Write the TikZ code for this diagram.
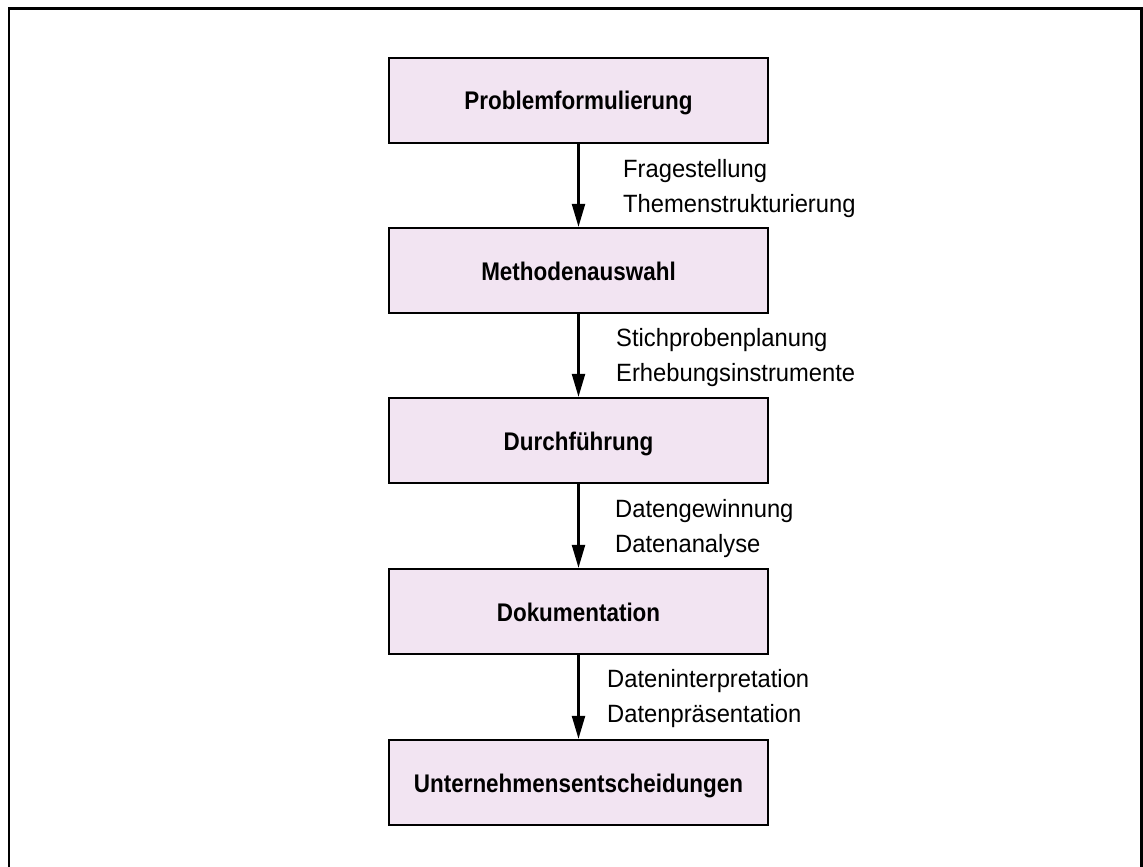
\documentclass[tikz,border=0pt]{standalone}
\usepackage{fontspec}
\setmainfont{Liberation Sans}[FakeStretch=0.95]
\newfontfamily\boxfont{Liberation Sans}[FakeStretch=0.88]
\usetikzlibrary{arrows.meta,calc}
\definecolor{stepfill}{RGB}{242,228,242}
\begin{document}
\begin{tikzpicture}[x=1pt,y=-1pt,
  stagebox/.style={draw=black, line width=2.3pt, fill=stepfill,
    minimum width=379pt, minimum height=85pt, inner sep=0pt,
    text height=19pt, text depth=0pt,
    font=\boxfont\bfseries\fontsize{25.5}{28}\selectfont},
  notes/.style={anchor=base west, align=left, inner sep=0pt,
    font=\fontsize{25}{35}\selectfont},
  flow/.style={line width=2.3pt, -{Triangle[length=23pt,width=13pt]}}]
\useasboundingbox (0,0) rectangle (1143,867);
\clip (0,0) rectangle (1143,867);
% outer frame
\draw[line width=2.8pt] (9,880) -- (9,8.7) -- (1141.8,8.7) -- (1141.8,880);

% process stages
\node[stagebox] (b1) at (578.5,100.5) {Problemformulierung};
\node[stagebox] (b2) at (578.5,270.5) {Methodenauswahl};
\node[stagebox] (b3) at (578.5,440.5) {Durchführung};
\node[stagebox] (b4) at (578.5,611.5) {Dokumentation};
\node[stagebox] (b5) at (578.5,782.5) {Unternehmensentscheidungen};

% transitions
\draw[flow] (b1) -- (b2);
\draw[flow] (b2) -- (b3);
\draw[flow] (b3) -- (b4);
\draw[flow] (b4) -- (b5);

% activities between stages (placed by the baseline of the second line)
\node[notes] (n1) at (623,212) {Fragestellung\\Themenstrukturierung};
\node[notes] (n2) at (616,381) {Stichprobenplanung\\Erhebungsinstrumente};
\node[notes] (n3) at (615,552) {Datengewinnung\\Datenanalyse};
\node[notes] (n4) at (607,722) {Dateninterpretation\\Datenpräsentation};
\end{tikzpicture}
\end{document}
